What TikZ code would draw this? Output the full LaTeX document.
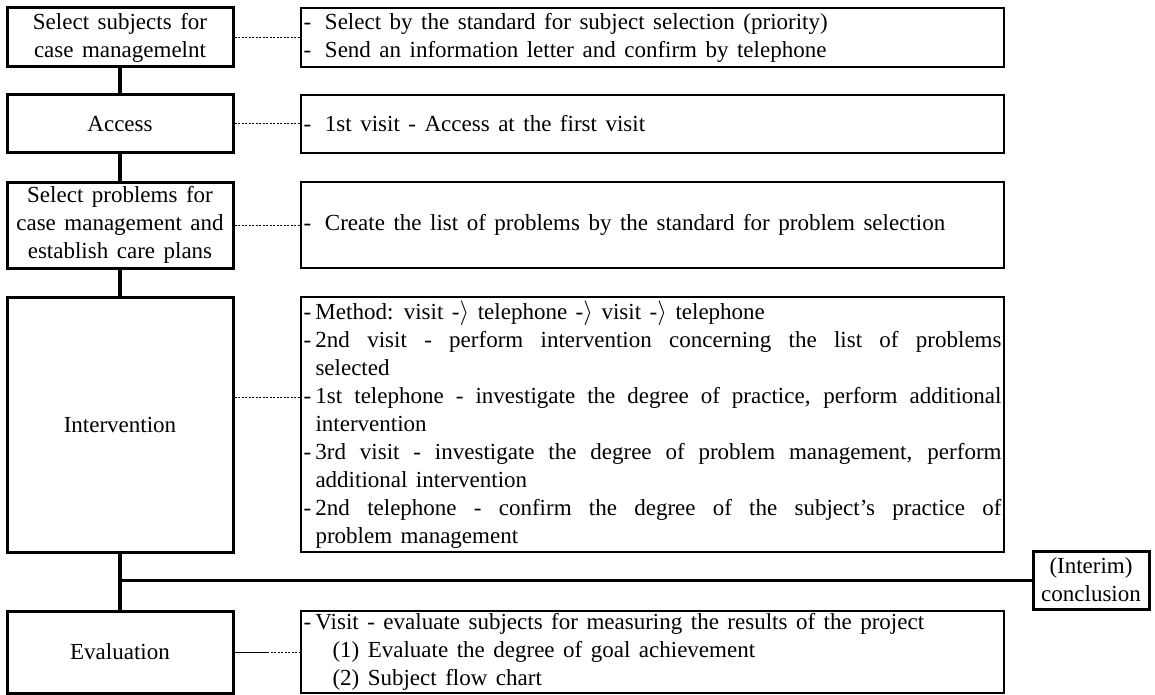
\documentclass[tikz,border=0pt]{standalone}
\usepackage{fontspec}
\setmainfont{Liberation Serif}

\tikzstyle{stage-base}=[rectangle,
                        draw=black,
                        text centered,
                        inner sep=0pt,
                        font={\fontsize{23}{28}\selectfont\spaceskip=8.5pt plus 4pt minus 2pt}
                       ]
\tikzstyle{stage}=[stage-base,
                   line width=3pt,
                   align=center,
                   minimum width=226pt]
\tikzstyle{note}=[stage-base,
                  line width=1.4pt,
                  minimum width=703pt]
\tikzstyle{dotlink}=[line width=1pt, dash pattern=on 2pt off 1.5pt]
\tikzstyle{spine}=[line width=3.2pt]

\newcommand{\noteitem}[2][12pt]{\par\hangindent=#1\hangafter=1\noindent\makebox[#1][l]{-}#2}
\newcommand{\notetext}[1]{\parbox{698pt}{\tolerance=10000\hyphenpenalty=10000 #1}}

\begin{document}
\begin{tikzpicture}[x=1pt, y=-1pt]
\useasboundingbox (0,0) rectangle (1155,695);

\node at (120, 37.5) (select) [stage, minimum height=59pt] {Select subjects for\\case managemelnt};
\node at (120, 124) (access) [stage, minimum height=58pt] {Access};
\node at (120, 225) (problems) [stage, minimum height=86pt] {Select problems for\\case management and\\establish care plans};
\node at (120, 424.5) (intervention) [stage, minimum height=255pt] {Intervention};
\node at (120, 652) (evaluation) [stage, minimum height=82pt] {Evaluation};

\node at (652.5, 37.5) (selectnote) [note, minimum height=59pt] {\notetext{%
  \noteitem[21.5pt]{Select by the standard for subject selection (priority)}
  \noteitem[21.5pt]{Send an information letter and confirm by telephone}}};
\node at (652.5, 124) (accessnote) [note, minimum height=58pt] {\notetext{%
  \noteitem[21.5pt]{1st visit - Access at the first visit}}};
\node at (652.5, 225) (problemsnote) [note, minimum height=86pt] {\notetext{%
  \noteitem[21.5pt]{Create the list of problems by the standard for problem selection}}};
\node at (652.5, 424.5) (interventionnote) [note, minimum height=255pt] {\notetext{%
  \noteitem{Method: visit -$\rangle$ telephone -$\rangle$ visit -$\rangle$ telephone}
  \noteitem{2nd visit - perform intervention concerning the list of problems\linebreak selected}
  \noteitem{1st telephone - investigate the degree of practice, perform additional\linebreak intervention}
  \noteitem{3rd visit - investigate the degree of problem management, perform\linebreak additional intervention}
  \noteitem{2nd telephone - confirm the degree of the subject's practice of\linebreak problem management}}};
\node at (652.5, 652) (evaluationnote) [note, minimum height=82pt] {\notetext{%
  \noteitem{Visit - evaluate subjects for measuring the results of the project}
  \par\hspace*{29pt}(1) Evaluate the degree of goal achievement
  \par\hspace*{29pt}(2) Subject flow chart}};

\node at (1091, 580) (interim) [stage-base, line width=3pt, align=center, minimum width=116pt, minimum height=58pt] {(Interim)\\conclusion};

\coordinate (junction) at (120, 580);
\coordinate (evallink) at (267, 652);

\draw[spine] (select) -- (access);
\draw[spine] (access) -- (problems);
\draw[spine] (problems) -- (intervention);
\draw[spine] (intervention) -- (evaluation);
\draw[line width=3pt] (junction) -- (interim);

\draw[dotlink] (select) -- (selectnote);
\draw[dotlink] (access) -- (accessnote);
\draw[dotlink] (problems) -- (problemsnote);
\draw[dotlink] ([yshift=27.5pt]intervention.east) -- ([yshift=27.5pt]interventionnote.west);
\draw[line width=1pt] (evaluation) -- (evallink);
\draw[dotlink] (evallink) -- (evaluationnote);

\end{tikzpicture}
\end{document}
